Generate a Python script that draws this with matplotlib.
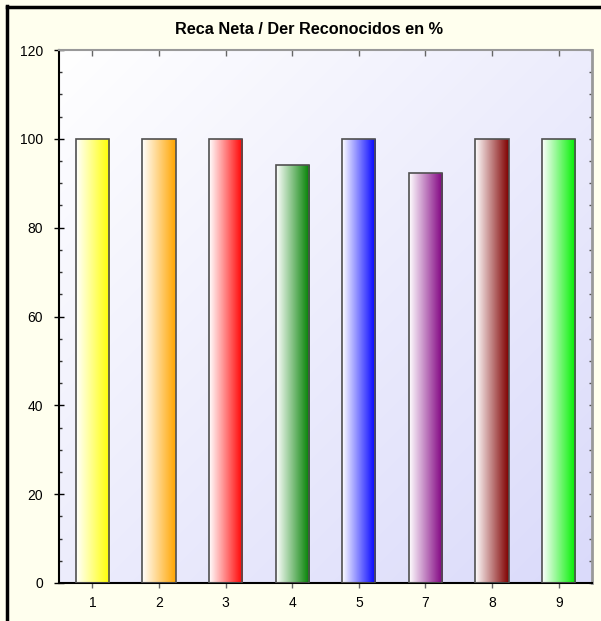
import numpy as np
from matplotlib import pyplot as plt
from matplotlib.colors import to_rgb
from matplotlib.ticker import MultipleLocator

plt.rcParams['font.family'] = ['Liberation Sans', 'DejaVu Sans']

categories = ["1", "2", "3", "4", "5", "7", "8", "9"]
values = [100, 100, 100, 94, 100, 92.2, 100, 100]
bar_colors = ["#FFFF00", "#FFA500", "#FF0000", "#008000", "#0000FF", "#800080", "#800000", "#00F000"]

W, H = 601, 621
fig = plt.figure(figsize=(W / 100, H / 100), dpi=100)
fig.patch.set_facecolor("#FFFFEE")

# black frame edges on left and top
fig.add_artist(plt.Line2D([7 / W, 7 / W], [0, 1 - 6 / H], color="black", lw=2.5))
fig.add_artist(plt.Line2D([7 / W, 1], [1 - 7 / H, 1 - 7 / H], color="black", lw=2.5))

ax = fig.add_axes([59 / W, 38 / H, 533 / W, 533 / H])
x = np.arange(len(categories))
ax.set_xlim(-0.5, len(categories) - 0.5)
ax.set_ylim(0, 120)

# diagonal gradient background, white top-left to lavender bottom-right
gx, gy = np.meshgrid(np.linspace(0, 1, 200), np.linspace(0, 1, 200))
t = (gx + gy) / 2
c0 = np.array([1.0, 1.0, 1.0])
c1 = np.array([218, 218, 250]) / 255
bg = c0 + (c1 - c0) * t[..., None]
ax.imshow(bg, extent=[-0.5, len(categories) - 0.5, 0, 120], origin="upper",
          aspect="auto", zorder=0, interpolation="bilinear")

width = 0.5
bars = ax.bar(x, values, width=width, facecolor="none", edgecolor="#505050", linewidth=1.2, zorder=3)
ramp = np.linspace(0, 1, 100)
for b, col in zip(bars, bar_colors):
    c = np.array(to_rgb(col))
    grad = np.ones((1, 100, 3)) + (c - 1) * ramp[None, :, None]
    im = ax.imshow(grad, extent=[b.get_x(), b.get_x() + b.get_width(), 0, b.get_height()],
                   aspect="auto", zorder=2, interpolation="bilinear")
    im.set_clip_path(b)

ax.set_xticks(x)
ax.set_xticklabels(categories)
ax.yaxis.set_major_locator(MultipleLocator(20))
ax.yaxis.set_minor_locator(MultipleLocator(5))

ax.tick_params(axis="y", which="major", left=True, right=False, direction="inout", length=7, width=1,
               labelsize=10, pad=8)
ax.tick_params(axis="y", which="minor", left=True, right=False, direction="in", length=2.5, width=1,
               color="#333333")
ax.tick_params(axis="x", which="major", bottom=True, top=False, direction="inout", length=7, width=1,
               color="#666666", labelsize=10, pad=6)

# top ticks pointing down, right ticks pointing left
top = ax.secondary_xaxis("top")
top.set_xticks(x)
top.tick_params(direction="in", length=4, width=1, color="#666666", labeltop=False)
top.spines["top"].set_visible(False)
right = ax.secondary_yaxis("right")
right.yaxis.set_major_locator(MultipleLocator(5))
right.tick_params(direction="in", length=2.5, width=1, color="#555555", labelright=False)
right.spines["right"].set_visible(False)

ax.spines["left"].set_color("black")
ax.spines["bottom"].set_color("black")
ax.spines["top"].set_color("#999999")
ax.spines["right"].set_color("#999999")
for s in ax.spines.values():
    s.set_linewidth(1.5)
ax.spines["right"].set_linewidth(2)

fig.text(309 / W, 1 - 29 / H, "Reca Neta / Der Reconocidos en %", ha="center", va="center",
         fontsize=11.7, fontweight="bold")

plt.savefig("out.png", dpi=100, facecolor=fig.get_facecolor())
